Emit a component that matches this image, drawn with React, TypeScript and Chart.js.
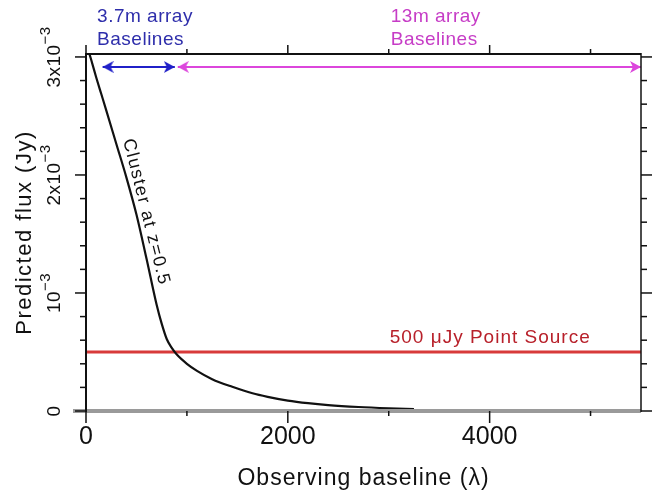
import React, { useEffect, useRef } from 'react';
import { Chart, registerables } from 'chart.js';

Chart.register(...registerables);

// ---- data ----
const baselines = [0, 50, 100, 150, 200, 300, 400, 500, 600, 700, 750, 800, 850, 900, 1000, 1100, 1250, 1450, 1650, 1800, 2000, 2200, 2400, 2700, 3000, 3250];
const clusterFlux = [0.00312, 0.00298, 0.00283, 0.00269, 0.00255, 0.002265, 0.00198, 0.001665, 0.00129, 0.0009, 0.00074, 0.00061, 0.000535, 0.000478, 0.0004, 0.00034, 0.00027, 0.000205, 0.00015, 0.00012, 0.000088, 0.000066, 0.00005, 0.000034, 0.000023, 0.000016];
const pointSourceFlux = 0.0005;
const xRange = [0, 5500];
const yRange = [0, 0.003025];
const smallArrayRange = [165, 880];
const largeArrayRange = [910, 5500];
const arrowLevel = 0.002915;
const xTickValues = [0, 2000, 4000];
const xTickLabels = ['0', '2000', '4000'];
const xMinorStep = 1000;
const yTickValues = [0, 0.001, 0.002, 0.003];
const yTickBase = ['0', '10', '2x10', '3x10'];
const yTickExp = ['', '\u22123', '\u22123', '\u22123'];
const yMinorStep = 0.0002;
const xTitle = 'Observing baseline (\u03bb)';
const yTitle = 'Predicted flux (Jy)';
const smallArrayText = ['3.7m array', 'Baselines'];
const largeArrayText = ['13m array', 'Baselines'];
const smallArrayTextAt = 110;
const largeArrayTextAt = 3020;
const pointSourceText = '500 \u03bcJy Point Source';
const pointSourceTextAt = 3010;
const clusterText = 'Cluster at z=0.5';
const clusterTextAt = 500;

const FONT = '"Liberation Sans", Arial, Helvetica, sans-serif';
const BLUE_TXT = '#2e2eab';
const BLUE = '#2020c8';
const MAG_TXT = '#c63cc6';
const MAG = '#dc46dc';
const RED = '#d83a3a';
const RED_TXT = '#b8202a';

function makeArrowHead(color: string) {
  const L = 11, H = 6;
  const c = document.createElement('canvas');
  c.width = 2 * L;
  c.height = 2 * H;
  const g = c.getContext('2d')!;
  g.fillStyle = color;
  g.beginPath();
  g.moveTo(L, H);
  g.lineTo(0, 0);
  g.lineTo(3, H);
  g.lineTo(0, 2 * H);
  g.closePath();
  g.fill();
  return c;
}

const decor = {
  id: 'decor',
  afterDatasetsDraw(chart: any) {
    const { ctx, chartArea: ca } = chart;
    const xs = chart.scales.x;
    const ys = chart.scales.y;
    ctx.save();
    const line = (x1: number, y1: number, x2: number, y2: number, color: string, w: number) => {
      ctx.strokeStyle = color;
      ctx.lineWidth = w;
      ctx.beginPath();
      ctx.moveTo(x1, y1);
      ctx.lineTo(x2, y2);
      ctx.stroke();
    };
    // frame
    line(ca.left - 13, ca.bottom, ca.right, ca.bottom, '#9a9a9a', 4);
    line(ca.left, ca.top, ca.right, ca.top, '#111', 2);
    line(ca.left, ca.top - 1, ca.left, ca.bottom + 1, '#111', 2);
    line(ca.right, ca.top - 1, ca.right, ca.bottom + 1, '#111', 1.5);
    // x ticks
    for (let v = xRange[0]; v <= xRange[1]; v += xMinorStep) {
      const px = xs.getPixelForValue(v);
      const major = xTickValues.includes(v);
      line(px, ca.bottom, px, ca.bottom + (major ? 12 : 5), '#111', 1.5);
      line(px, ca.top, px, ca.top - (major ? 9 : 5), '#111', 1.5);
    }
    // y ticks
    const nY = Math.floor(yRange[1] / yMinorStep + 1e-6);
    for (let i = 0; i <= nY; i++) {
      const v = i * yMinorStep;
      const py = ys.getPixelForValue(v);
      const major = i % 5 === 0;
      line(ca.left, py, ca.left - (major ? 11 : 6), py, '#111', 1.5);
      line(ca.right, py, ca.right + (major ? 11 : 6), py, '#111', 1.5);
    }
    // x tick labels
    ctx.fillStyle = '#111';
    ctx.textBaseline = 'middle';
    ctx.textAlign = 'center';
    ctx.font = `25px ${FONT}`;
    xTickValues.forEach((v, i) => {
      ctx.fillText(xTickLabels[i], xs.getPixelForValue(v), ca.bottom + 26);
    });
    // x title
    (ctx as any).letterSpacing = '1px';
    ctx.font = `23px ${FONT}`;
    ctx.fillText(xTitle, (ca.left + ca.right) / 2, ca.bottom + 68);
    // y tick labels (rotated with exponent)
    yTickValues.forEach((v, i) => {
      const py = ys.getPixelForValue(v);
      ctx.save();
      ctx.translate(ca.left - 31, py);
      ctx.rotate(-Math.PI / 2);
      (ctx as any).letterSpacing = '0.5px';
      ctx.font = `19px ${FONT}`;
      const wb = ctx.measureText(yTickBase[i]).width;
      ctx.font = `15px ${FONT}`;
      const we = yTickExp[i] ? ctx.measureText(yTickExp[i]).width : 0;
      const start = -(wb + we) / 2;
      ctx.textAlign = 'left';
      ctx.font = `19px ${FONT}`;
      ctx.fillText(yTickBase[i], start, 0);
      if (yTickExp[i]) {
        ctx.font = `15px ${FONT}`;
        ctx.fillText(yTickExp[i], start + wb, -9);
      }
      ctx.restore();
    });
    // y title
    ctx.save();
    ctx.translate(ca.left - 61, (ca.top + ca.bottom) / 2);
    ctx.rotate(-Math.PI / 2);
    (ctx as any).letterSpacing = '1.5px';
    ctx.font = `22px ${FONT}`;
    ctx.textAlign = 'center';
    ctx.fillText(yTitle, 0, 0);
    ctx.restore();

    // annotations
    ctx.textAlign = 'left';
    (ctx as any).letterSpacing = '0.5px';
    ctx.font = `19px ${FONT}`;
    ctx.fillStyle = BLUE_TXT;
    ctx.fillText(smallArrayText[0], xs.getPixelForValue(smallArrayTextAt), ca.top - 37);
    ctx.fillText(smallArrayText[1], xs.getPixelForValue(smallArrayTextAt), ca.top - 14);
    ctx.fillStyle = MAG_TXT;
    ctx.fillText(largeArrayText[0], xs.getPixelForValue(largeArrayTextAt), ca.top - 37);
    ctx.fillText(largeArrayText[1], xs.getPixelForValue(largeArrayTextAt), ca.top - 14);
    ctx.fillStyle = RED_TXT;
    (ctx as any).letterSpacing = '1px';
    ctx.fillText(pointSourceText, xs.getPixelForValue(pointSourceTextAt), ys.getPixelForValue(pointSourceFlux) - 14);

    // cluster label along curve
    const meta = chart.getDatasetMeta(0);
    const idx = baselines.indexOf(clusterTextAt);
    const p = meta.data[idx];
    const pa = meta.data[idx - 2];
    const pb = meta.data[idx + 2];
    const ang = Math.atan2(pb.y - pa.y, pb.x - pa.x);
    const off = 10;
    const cx = p.x + Math.sin(ang) * off;
    const cy = p.y - Math.cos(ang) * off;
    ctx.save();
    ctx.translate(cx, cy);
    ctx.rotate(ang);
    ctx.fillStyle = '#111';
    (ctx as any).letterSpacing = '1.5px';
    ctx.font = `18px ${FONT}`;
    ctx.textAlign = 'center';
    ctx.textBaseline = 'middle';
    ctx.fillText(clusterText, 0, 0);
    ctx.restore();

    ctx.restore();
  },
};

export default function App() {
  const ref = useRef<HTMLCanvasElement | null>(null);
  useEffect(() => {
    if (!ref.current) return;
    const blueHead = makeArrowHead(BLUE);
    const magHead = makeArrowHead(MAG);
    const chart = new Chart(ref.current, {
      type: 'line',
      data: {
        datasets: [
          {
            data: baselines.map((b, i) => ({ x: b, y: clusterFlux[i] })),
            borderColor: '#111',
            borderWidth: 2.2,
            pointRadius: 0,
            cubicInterpolationMode: 'monotone',
          },
          {
            data: [
              { x: xRange[0], y: pointSourceFlux },
              { x: xRange[1], y: pointSourceFlux },
            ],
            borderColor: RED,
            borderWidth: 3,
            pointRadius: 0,
          },
          {
            data: smallArrayRange.map((b) => ({ x: b, y: arrowLevel })),
            borderColor: BLUE,
            borderWidth: 2,
            pointStyle: blueHead as any,
            pointRadius: 4,
            pointRotation: [180, 0] as any,
          },
          {
            data: largeArrayRange.map((b) => ({ x: b, y: arrowLevel })),
            borderColor: MAG,
            borderWidth: 2,
            pointStyle: magHead as any,
            pointRadius: 4,
            pointRotation: [180, 0] as any,
          },
        ],
      },
      options: {
        animation: false,
        responsive: true,
        maintainAspectRatio: false,
        events: [],
        layout: { padding: { left: 86, right: 17, top: 54, bottom: 83 } },
        plugins: { legend: { display: false }, tooltip: { enabled: false }, title: { display: false } },
        scales: {
          x: { type: 'linear', min: xRange[0], max: xRange[1], display: false },
          y: { type: 'linear', min: yRange[0], max: yRange[1], display: false },
        },
      },
      plugins: [decor],
    });
    return () => chart.destroy();
  }, []);
  return (
    <div style={{ position: 'fixed', left: 0, top: 0, width: 658, height: 494, background: '#fff' }}>
      <canvas ref={ref} />
    </div>
  );
}
